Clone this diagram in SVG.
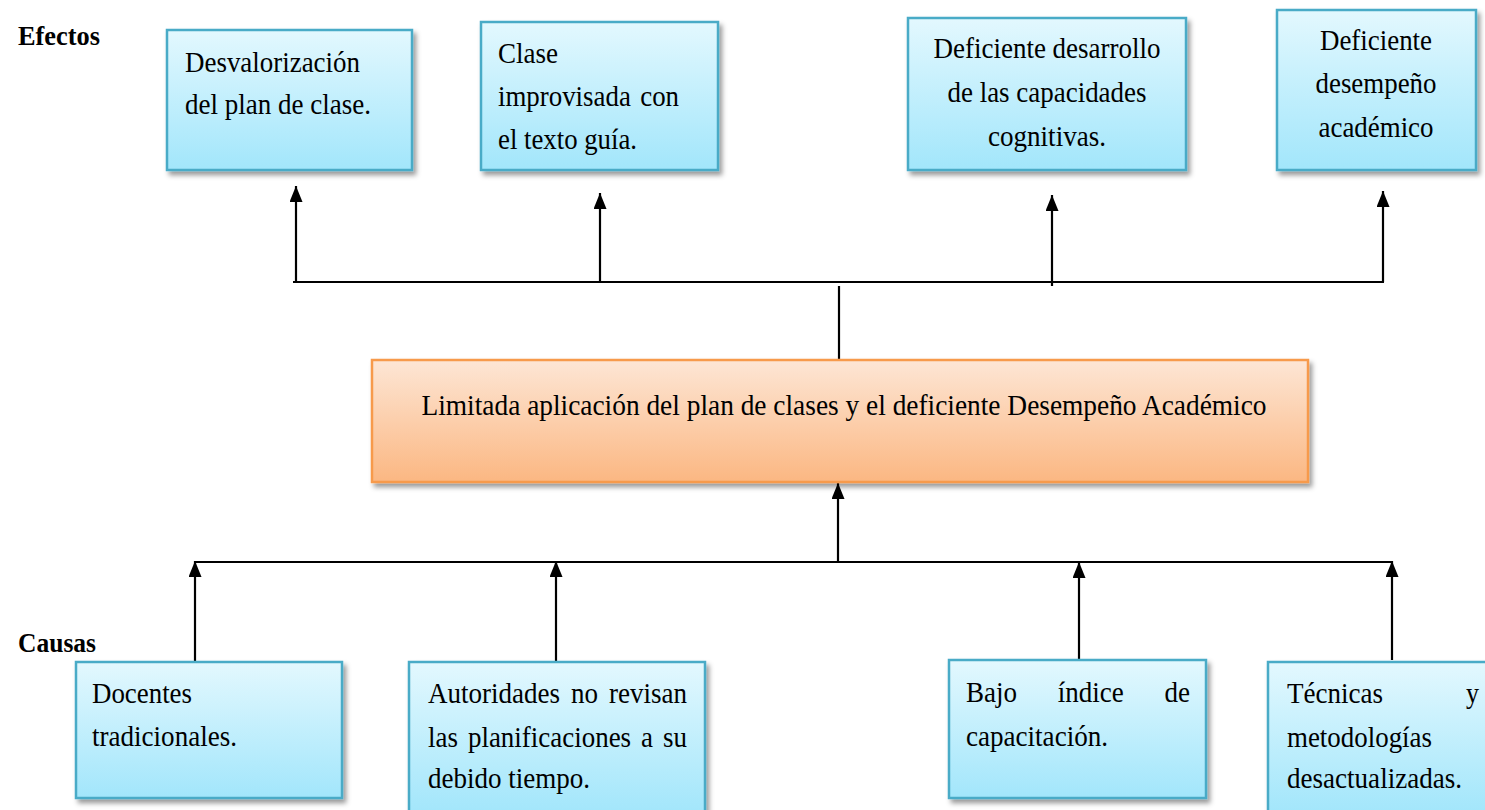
<svg xmlns="http://www.w3.org/2000/svg" width="1485" height="810" viewBox="0 0 1485 810">
<style>
.t{font-family:"Liberation Serif","Times New Roman",serif;font-size:30px;fill:#000}
.lbl{font-family:"Liberation Serif","Times New Roman",serif;font-size:28px;font-weight:bold;fill:#000}
.blue{fill:url(#gBlue);stroke:#4aabc7;stroke-width:2.5}
.orange{fill:url(#gOrange);stroke:#f79a4c;stroke-width:2.5}
.ln{stroke:#000;stroke-width:2.2;fill:none}
.arr{stroke:#000;stroke-width:2.2;fill:none;marker-end:url(#ah)}
</style>
<defs>
<linearGradient id="gBlue" x1="0" y1="0" x2="0" y2="1">
<stop offset="0" stop-color="#e3f8fe"/>
<stop offset="1" stop-color="#a2e6fb"/>
</linearGradient>
<linearGradient id="gOrange" x1="0" y1="0" x2="0" y2="1">
<stop offset="0" stop-color="#fde6d5"/>
<stop offset="1" stop-color="#fbb782"/>
</linearGradient>
<filter id="sh" x="-10%" y="-10%" width="130%" height="140%">
<feDropShadow dx="3" dy="4" stdDeviation="2.5" flood-color="#000" flood-opacity="0.4"/>
</filter>
<marker id="ah" viewBox="0 0 16 13" refX="16" refY="6.5" markerWidth="16" markerHeight="13" markerUnits="userSpaceOnUse" orient="auto">
<path d="M0,0 L16,6.5 L0,13 Z" fill="#000"/>
</marker>
</defs>
<rect width="1485" height="810" fill="#fff"/>

<g id="labels">
<text class="lbl" x="18" y="45" textLength="82" lengthAdjust="spacingAndGlyphs">Efectos</text>
<text class="lbl" x="18" y="652" textLength="78" lengthAdjust="spacingAndGlyphs">Causas</text>
</g>

<g id="connectors">
<line class="ln" x1="293" y1="282" x2="1384" y2="282"/>
<line class="arr" x1="296" y1="282" x2="296" y2="186"/>
<line class="arr" x1="600" y1="282" x2="600" y2="193"/>
<line class="arr" x1="1052" y1="286" x2="1052" y2="195"/>
<line class="arr" x1="1383" y1="282" x2="1383" y2="191"/>
<line class="ln" x1="839" y1="286" x2="839" y2="360"/>
<line class="arr" x1="838" y1="562" x2="838" y2="483"/>
<line class="ln" x1="195" y1="562" x2="1393" y2="562"/>
<line class="arr" x1="195" y1="662" x2="195" y2="561"/>
<line class="arr" x1="556" y1="662" x2="556" y2="561"/>
<line class="arr" x1="1079" y1="660" x2="1079" y2="562"/>
<line class="arr" x1="1392" y1="660" x2="1392" y2="561"/>
</g>

<g id="efecto1">
<rect class="blue" x="167" y="30" width="245" height="140" filter="url(#sh)"/>
<text class="t" x="185" y="72" textLength="175" lengthAdjust="spacingAndGlyphs">Desvalorización</text>
<text class="t" x="185" y="114" textLength="186" lengthAdjust="spacingAndGlyphs">del plan de clase.</text>
</g>

<g id="efecto2">
<rect class="blue" x="481" y="22" width="237" height="148" filter="url(#sh)"/>
<text class="t" x="498" y="63" textLength="60" lengthAdjust="spacingAndGlyphs">Clase</text>
<text class="t" x="498" y="106" word-spacing="3" textLength="181" lengthAdjust="spacingAndGlyphs">improvisada con</text>
<text class="t" x="498" y="149" textLength="139" lengthAdjust="spacingAndGlyphs">el texto guía.</text>
</g>

<g id="efecto3">
<rect class="blue" x="908" y="18" width="278" height="152" filter="url(#sh)"/>
<text class="t" x="1047" y="58" text-anchor="middle" textLength="227" lengthAdjust="spacingAndGlyphs">Deficiente desarrollo</text>
<text class="t" x="1047" y="102" text-anchor="middle" textLength="199" lengthAdjust="spacingAndGlyphs">de las capacidades</text>
<text class="t" x="1047" y="146" text-anchor="middle" textLength="118" lengthAdjust="spacingAndGlyphs">cognitivas.</text>
</g>

<g id="efecto4">
<rect class="blue" x="1277" y="10" width="199" height="160" filter="url(#sh)"/>
<text class="t" x="1376" y="50" text-anchor="middle" textLength="112" lengthAdjust="spacingAndGlyphs">Deficiente</text>
<text class="t" x="1376" y="93" text-anchor="middle" textLength="121" lengthAdjust="spacingAndGlyphs">desempeño</text>
<text class="t" x="1376" y="137" text-anchor="middle" textLength="115" lengthAdjust="spacingAndGlyphs">académico</text>
</g>

<g id="problema">
<rect class="orange" x="372" y="360" width="936" height="122" filter="url(#sh)"/>
<text class="t" x="844" y="415" text-anchor="middle" textLength="845" lengthAdjust="spacingAndGlyphs">Limitada aplicación del plan de clases y el deficiente Desempeño Académico</text>
</g>

<g id="causa1">
<rect class="blue" x="76" y="662" width="266" height="136" filter="url(#sh)"/>
<text class="t" x="92" y="703" textLength="100" lengthAdjust="spacingAndGlyphs">Docentes</text>
<text class="t" x="92" y="746" textLength="145" lengthAdjust="spacingAndGlyphs">tradicionales.</text>
</g>

<g id="causa2">
<rect class="blue" x="409" y="662" width="296" height="152" filter="url(#sh)"/>
<text class="t" x="428" y="703" word-spacing="4.7" textLength="259" lengthAdjust="spacingAndGlyphs">Autoridades no revisan</text>
<text class="t" x="428" y="747" word-spacing="3.6" textLength="259" lengthAdjust="spacingAndGlyphs">las planificaciones a su</text>
<text class="t" x="428" y="788" textLength="162" lengthAdjust="spacingAndGlyphs">debido tiempo.</text>
</g>

<g id="causa3">
<rect class="blue" x="949" y="660" width="257" height="138" filter="url(#sh)"/>
<text class="t" x="966" y="702" word-spacing="37.8" textLength="224" lengthAdjust="spacingAndGlyphs">Bajo índice de</text>
<text class="t" x="966" y="746" textLength="142" lengthAdjust="spacingAndGlyphs">capacitación.</text>
</g>

<g id="causa4">
<rect class="blue" x="1268" y="662" width="225" height="152" filter="url(#sh)"/>
<text class="t" x="1287" y="703" textLength="96" lengthAdjust="spacingAndGlyphs">Técnicas</text>
<text class="t" x="1479" y="703" text-anchor="end" textLength="13" lengthAdjust="spacingAndGlyphs">y</text>
<text class="t" x="1287" y="747" textLength="145" lengthAdjust="spacingAndGlyphs">metodologías</text>
<text class="t" x="1287" y="788" textLength="175" lengthAdjust="spacingAndGlyphs">desactualizadas.</text>
</g>
</svg>
